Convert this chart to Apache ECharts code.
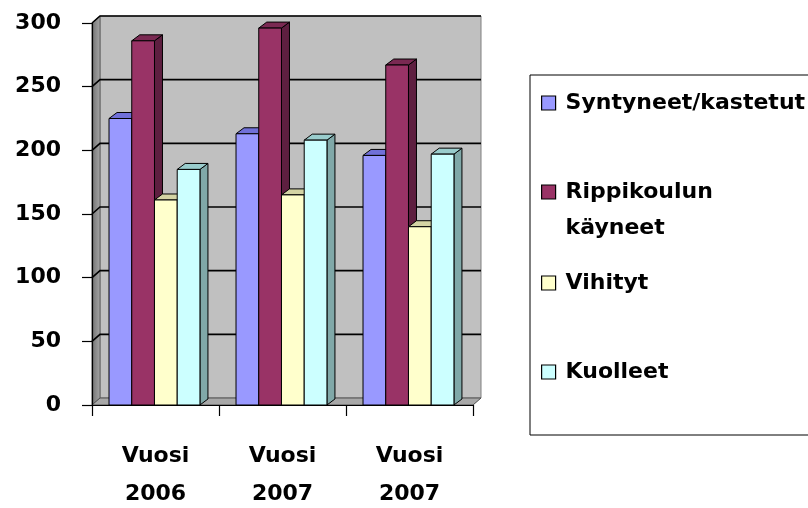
<!DOCTYPE html>
<html>
<head>
<meta charset="utf-8">
<script src="https://cdn.jsdelivr.net/npm/echarts@6/dist/echarts.min.js"></script>
<style>html,body{margin:0;padding:0;background:#fff}#c{width:808px;height:508px}</style>
</head>
<body>
<div id="c"></div>
<script>
// ---- data ----
const categories = ['Vuosi\n2006', 'Vuosi\n2007', 'Vuosi\n2007'];
const seriesNames = ['Syntyneet/kastetut', 'Rippikoulun käyneet', 'Vihityt', 'Kuolleet'];
const syntyneet = [225, 213, 196];
const rippikoulu = [286, 296, 267];
const vihityt = [161, 165, 140];
const kuolleet = [185, 208, 197];
const yTicks = [0, 50, 100, 150, 200, 250, 300];

// ---- styles ----
const FONT = 'DejaVu Sans';
const faces = [
  {front: '#9999FF', top: '#7070D8', side: '#5C5CB0'},
  {front: '#993366', top: '#7A2952', side: '#5E1F40'},
  {front: '#FFFFCC', top: '#D4D4A4', side: '#B0B088'},
  {front: '#CCFFFF', top: '#99CCCC', side: '#80A8A8'}
];
const DX = 8, DY = -6;        // bar depth
const WDX = 8, WDY = -7;      // wall depth

const allValues = [syntyneet, rippikoulu, vihityt, kuolleet];

function barRenderer(si) {
  return function (params, api) {
    const ci = api.value(0), v = api.value(1);
    const band = api.size([1, 0])[0];
    const p0 = api.coord([ci, 0]);
    const p1 = api.coord([ci, v]);
    const catLeft = p0[0] - band / 2;
    const bw = band * 0.179;
    const x0 = catLeft + band * 0.134 + si * bw;
    const x1 = x0 + bw;
    const yb = p0[1], yt = p1[1];
    const f = faces[si];
    const st = {stroke: '#000', lineWidth: 1};
    return {
      type: 'group',
      children: [
        {type: 'polygon', shape: {points: [[x1, yt], [x1 + DX, yt + DY], [x1 + DX, yb + DY], [x1, yb]]},
         style: Object.assign({fill: f.side}, st)},
        {type: 'polygon', shape: {points: [[x0, yt], [x0 + DX, yt + DY], [x1 + DX, yt + DY], [x1, yt]]},
         style: Object.assign({fill: f.top}, st)},
        {type: 'rect', shape: {x: x0, y: yt, width: bw, height: yb - yt},
         style: Object.assign({fill: f.front}, st)}
      ]
    };
  };
}

function frameRenderer(params, api) {
  const cs = params.coordSys;
  const x = cs.x, y = cs.y, w = cs.width, h = cs.height;
  const children = [];
  // back wall
  children.push({type: 'rect', shape: {x: x + WDX, y: y + WDY, width: w, height: h},
    style: {fill: '#C0C0C0', stroke: '#808080', lineWidth: 1}});
  // left wall
  children.push({type: 'polygon', shape: {points: [[x, y], [x + WDX, y + WDY], [x + WDX, y + h + WDY], [x, y + h]]},
    style: {fill: new echarts.graphic.LinearGradient(0, 0, 1, 0, [{offset: 0, color: '#707070'}, {offset: 1, color: '#A8A8A8'}]),
            stroke: '#606060', lineWidth: 1}});
  // floor
  children.push({type: 'polygon', shape: {points: [[x, y + h], [x + WDX, y + h + WDY], [x + w + WDX, y + h + WDY], [x + w, y + h]]},
    style: {fill: '#A8A8A8', stroke: '#505050', lineWidth: 1}});
  // gridlines on left and back walls
  yTicks.forEach(function (t) {
    if (t === 0) return;
    const yy = api.coord([0, t])[1];
    children.push({type: 'polyline', shape: {points: [[x, yy], [x + WDX, yy + WDY], [x + w + WDX, yy + WDY]]},
      style: {stroke: '#000', lineWidth: 1.6, fill: null}});
  });
  return {type: 'group', children: children};
}

const series = [{
  type: 'custom', name: '_frame', silent: true, z: 1,
  data: [[0, 0]], renderItem: frameRenderer
}];
seriesNames.forEach(function (n, si) {
  series.push({
    type: 'custom', name: n, z: 2 + si,
    itemStyle: {color: faces[si].front, borderColor: '#000', borderWidth: 1},
    encode: {x: 0, y: 1},
    data: categories.map(function (c, i) { return [i, allValues[si][i]]; }),
    renderItem: barRenderer(si)
  });
});

const legendText = {fontFamily: FONT, fontWeight: 'bold', fontSize: 22, color: '#000', lineHeight: 36, padding: [0, 0, 0, 5]};
function mkLegend(name, left, top, padding, extra) {
  return Object.assign({
    data: [name], orient: 'vertical', left: left, top: top, padding: padding,
    icon: 'rect', itemWidth: 14, itemHeight: 14,
    itemStyle: {borderColor: '#000', borderWidth: 1.2},
    textStyle: legendText, selectedMode: false
  }, extra || {});
}

const chart = echarts.init(document.getElementById('c'), null, {renderer: 'canvas'});
chart.setOption({
  animation: false,
  backgroundColor: '#fff',
  grid: {left: 92, right: 335, top: 23, bottom: 103, containLabel: false, outerBoundsMode: 'none'},
  xAxis: {
    type: 'category', data: categories, boundaryGap: true, z: 10,
    axisLine: {show: true, lineStyle: {color: '#000', width: 1.2}},
    axisTick: {show: true, length: 11, lineStyle: {color: '#000', width: 1.2}},
    axisLabel: {fontFamily: FONT, fontWeight: 'bold', fontSize: 22, color: '#000', lineHeight: 38, margin: 32, interval: 0},
    splitLine: {show: false}
  },
  yAxis: {
    type: 'value', min: 0, max: 300, interval: 50, z: 10,
    axisLine: {show: true, lineStyle: {color: '#000', width: 1.2}},
    axisTick: {show: true, length: 10, lineStyle: {color: '#000', width: 1.2}},
    axisLabel: {fontFamily: FONT, fontWeight: 'bold', fontSize: 22, color: '#000', margin: 31, padding: [6, 0, 0, 0]},
    splitLine: {show: false}
  },
  legend: [
    mkLegend(seriesNames[0], 530, 75, [10, 30, 314, 11], {borderColor: '#000', borderWidth: 1}),
    mkLegend(seriesNames[1], 541, 138, 0, {formatter: function () { return '\nRippikoulun\nkäyneet'; }}),
    mkLegend(seriesNames[2], 541, 265, 0),
    mkLegend(seriesNames[3], 541, 354, 0)
  ],
  series: series
});
</script>
</body>
</html>
